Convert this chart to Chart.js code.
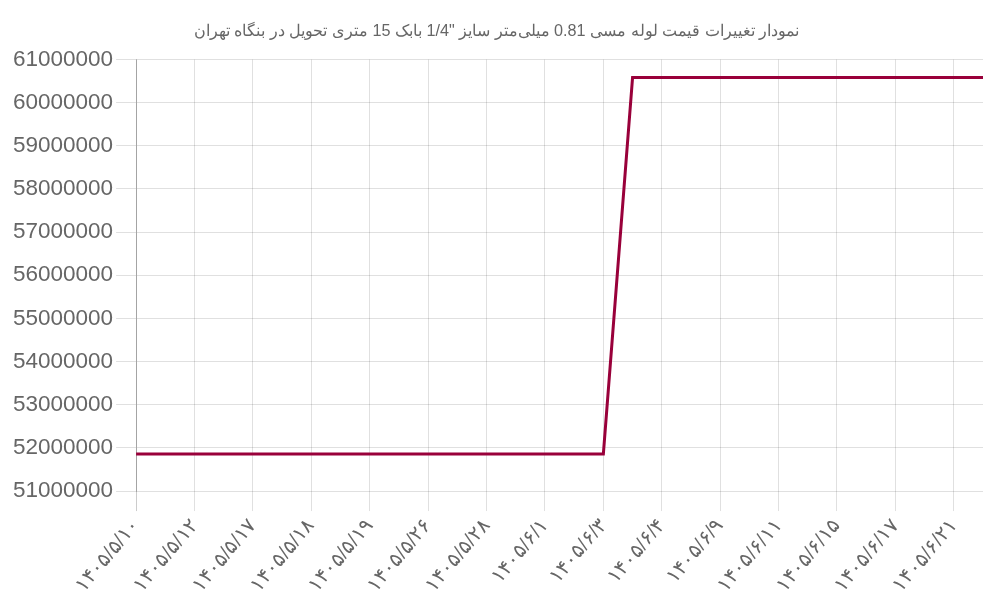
<!DOCTYPE html>
<html>
<head>
<meta charset="utf-8">
<script src="https://cdn.jsdelivr.net/npm/chart.js@4.4.1/dist/chart.umd.min.js"></script>
<style>
html,body{margin:0;padding:0;background:#fff;}
#wrap{width:1000px;height:600px;}
</style>
</head>
<body>
<div id="wrap"><canvas id="c" width="1000" height="600"></canvas></div>
<script>
const titleText = 'نمودار تغییرات قیمت لوله مسی 0.81 میلی‌متر سایز "1/4 بابک 15 متری تحویل در بنگاه تهران';
const dates = [
  '۱۴۰۵/۵/۱۰','۱۴۰۵/۵/۱۱','۱۴۰۵/۵/۱۲','۱۴۰۵/۵/۱۴','۱۴۰۵/۵/۱۷','۱۴۰۵/۵/۱۷',
  '۱۴۰۵/۵/۱۸','۱۴۰۵/۵/۱۸','۱۴۰۵/۵/۱۹','۱۴۰۵/۵/۲۱','۱۴۰۵/۵/۲۶','۱۴۰۵/۵/۲۷',
  '۱۴۰۵/۵/۲۸','۱۴۰۵/۵/۳۱','۱۴۰۵/۶/۱','۱۴۰۵/۶/۲','۱۴۰۵/۶/۳','۱۴۰۵/۶/۳',
  '۱۴۰۵/۶/۴','۱۴۰۵/۶/۷','۱۴۰۵/۶/۹','۱۴۰۵/۶/۱۰','۱۴۰۵/۶/۱۱','۱۴۰۵/۶/۱۴',
  '۱۴۰۵/۶/۱۵','۱۴۰۵/۶/۱۶','۱۴۰۵/۶/۱۷','۱۴۰۵/۶/۱۸','۱۴۰۵/۶/۲۱','۱۴۰۵/۶/۲۲'
];
const prices = [
  51860000,51860000,51860000,51860000,51860000,51860000,
  51860000,51860000,51860000,51860000,51860000,51860000,
  51860000,51860000,51860000,51860000,51860000,60580000,
  60580000,60580000,60580000,60580000,60580000,60580000,
  60580000,60580000,60580000,60580000,60580000,60580000
];
const yMin = 51000000, yMax = 61000000, yStep = 1000000;

new Chart(document.getElementById('c'), {
  type: 'line',
  data: {
    labels: dates,
    datasets: [{
      data: prices,
      borderColor: '#99003a',
      backgroundColor: '#99003a',
      borderWidth: 3,
      pointRadius: 0,
      tension: 0,
      fill: false
    }]
  },
  options: {
    responsive: false,
    animation: false,
    layout: { padding: { right: 17, left: 10 } },
    plugins: {
      legend: { display: false },
      tooltip: { enabled: false },
      title: {
        display: true,
        text: titleText,
        color: '#666',
        font: { size: 16.2, weight: 'normal' },
        padding: { top: 22, bottom: 18 }
      }
    },
    scales: {
      x: {
        border: { display: false },
        grid: {
          tickLength: 20,
          color: function(ctx) { return ctx.index === 0 ? 'rgba(0,0,0,0.2)' : 'rgba(0,0,0,0.12)'; }
        },
        ticks: {
          color: '#666',
          font: { size: 20 },
          autoSkip: false,
          maxRotation: 50,
          minRotation: 50,
          callback: function(v, i) { return i % 2 === 0 ? dates[i] : null; }
        }
      },
      y: {
        min: yMin,
        max: yMax,
        border: { color: 'rgba(0,0,0,0.2)' },
        grid: { tickLength: 20, color: 'rgba(0,0,0,0.12)' },
        ticks: {
          stepSize: yStep,
          color: '#666',
          font: { size: 22.5 },
          padding: 3,
          callback: function(v) { return String(v); }
        }
      }
    }
  }
});
</script>
</body>
</html>
